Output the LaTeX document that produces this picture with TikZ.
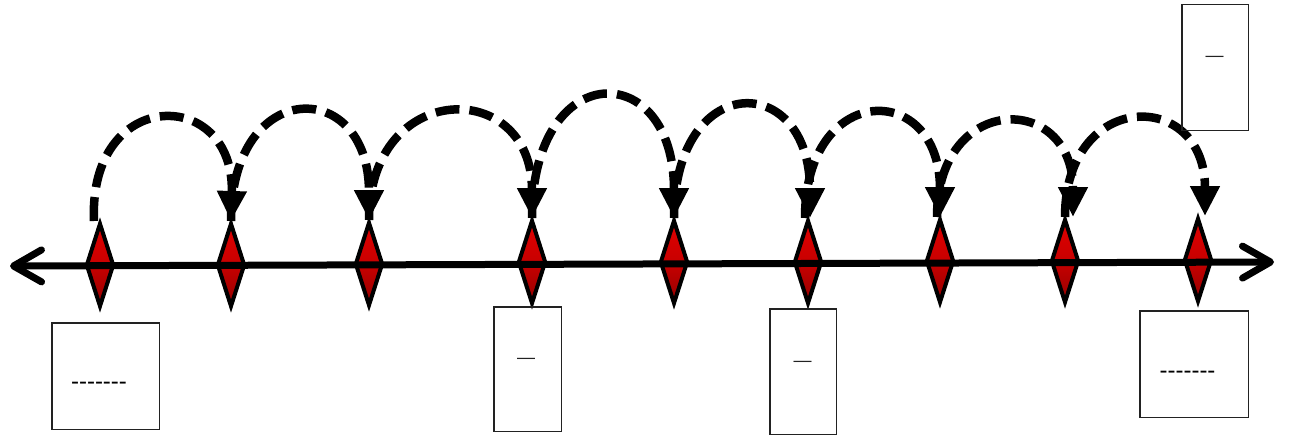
\documentclass[tikz,border=0pt]{standalone}
\usepackage{fontspec}
\setmainfont{Liberation Sans}
\newfontfamily\plainfont{Liberation Sans}[Ligatures=TeXOff]
\usetikzlibrary{arrows.meta,shapes.geometric}
\definecolor{redtop}{HTML}{E00000}
\definecolor{redmid}{HTML}{C80000}
\definecolor{redbot}{HTML}{950000}
\definecolor{boxline}{HTML}{222222}
\begin{document}
\begin{tikzpicture}[x=1pt,y=-1pt,
  marker/.style={diamond, draw=black, line width=4pt, minimum width=28pt, minimum height=84pt, inner sep=0pt, top color=redtop, bottom color=redbot, middle color=redmid},
  hop/.style={line width=8.5pt, dash pattern=on 24pt off 10pt, -{Triangle[width=28pt,length=30pt]}},
  axisline/.style={line width=7pt, {Straight Barb[length=28pt,width=32pt,round]}-{Straight Barb[length=28pt,width=32pt,round]}},
  answer/.style={draw=boxline, line width=1.5pt, inner sep=0pt, rectangle},
  dashtext/.style={font=\plainfont\fontsize{24}{26}\selectfont, inner sep=0pt, anchor=base},
  mdash/.style={font=\plainfont\fontsize{18}{20}\selectfont, inner sep=0pt, anchor=base, text=boxline}]
\useasboundingbox (0,0) rectangle (1290,436);
% markers
\node[marker] (d1) at (100,265) {};
\node[marker] (d2) at (231,265) {};
\node[marker] (d3) at (369,264) {};
\node[marker] (d4) at (532,262) {};
\node[marker] (d5) at (674,262) {};
\node[marker] (d6) at (808,262) {};
\node[marker] (d7) at (940,261) {};
\node[marker] (d8) at (1065,261) {};
\node[marker] (d9) at (1198,260) {};
% axis
\coordinate (L) at (10,266);
\coordinate (R) at (1274,262);
\draw[axisline] (L) -- (R);
% hops
\draw[hop] ([xshift=-6pt]d1.north) .. controls +(-6,-135) and +(4,-135) .. (d2.north);
\draw[hop] (d2.north) .. controls +(0,-144) and +(0,-144) .. (d3.north);
\draw[hop] (d3.north) .. controls +(0,-141) and +(0,-141) .. (d4.north);
\draw[hop] (d4.north) .. controls +(0,-161) and +(0,-161) .. (d5.north);
\draw[hop] (d5.north) .. controls +(0,-148) and +(0,-148) .. ([xshift=2pt]d6.north);
\draw[hop] ([xshift=-3pt]d6.north) .. controls +(0,-137) and +(0,-137) .. (d7.north);
\draw[hop] ([xshift=-3pt]d7.north) .. controls +(0,-125) and +(0,-125) .. ([xshift=8pt]d8.north);
\draw[hop] (d8.north) .. controls +(0,-128) and +(0,-128) .. ([xshift=7pt]d9.north);
% boxes
\node[answer, minimum width=107.5pt, minimum height=106.5pt] (b1) at (105.5,376) {};
\node[answer, minimum width=67.5pt, minimum height=124.5pt] (b2) at (527.5,369) {};
\node[answer, minimum width=66.5pt, minimum height=125.5pt] (b3) at (803,371.5) {};
\node[answer, minimum width=66.5pt, minimum height=125.5pt] (b4) at (1215,67.5) {};
\node[answer, minimum width=108.5pt, minimum height=106.5pt] (b5) at (1194,364) {};
% texts
\node[dashtext] (t1) at (99,389.5) {-------};
\node[mdash] (t2) at (526,363) {—};
\node[mdash] (t3) at (802.5,366) {—};
\node[mdash] (t4) at (1214.5,62) {—};
\node[dashtext] (t5) at (1187.5,378.5) {-------};
\end{tikzpicture}
\end{document}
